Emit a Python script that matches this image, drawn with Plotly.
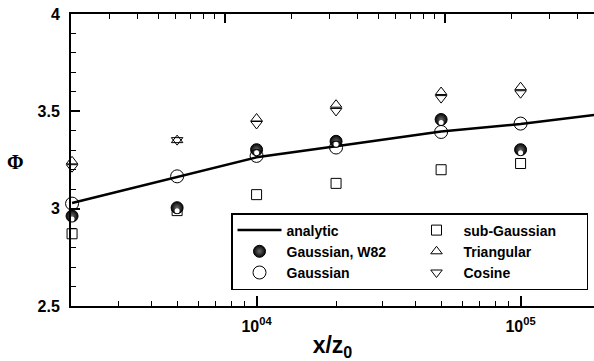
import math
import plotly.graph_objects as go

# ---- data ----
x_sim = [2000, 5000, 1e4, 2e4, 5e4, 1e5]
x_gauss = [2000, 5000, 1e4, 2e4, 5e4, 1e5, 2e5]
x_line = [2000, 5000, 1e4, 2e4, 5e4, 1e5, 2e5]

analytic = [3.029, 3.163, 3.264, 3.321, 3.396, 3.435, 3.485]
gaussian = [3.026, 3.166, 3.271, 3.314, 3.394, 3.437, 3.446]
gauss_w82 = [2.962, 3.005, 3.303, 3.346, 3.458, 3.303]
sub_gauss = [2.871, 2.990, 3.072, 3.130, 3.200, 3.232]
triangular = [3.243, 3.352, 3.463, 3.534, 3.599, 3.624]
cosine = [3.213, 3.352, 3.435, 3.502, 3.568, 3.593]

x_tickvals = [1e4, 1e5]
x_ticktext = ["10<sup>04</sup>", "10<sup>05</sup>"]
x_minor = [3000, 4000, 5000, 6000, 7000, 8000, 9000,
           2e4, 3e4, 4e4, 5e4, 6e4, 7e4, 8e4, 9e4, 2e5]
y_tickvals = [2.5, 3, 3.5, 4]
y_ticktext = ["2.5", "3", "3.5", "4"]
top_tickvals = [10, 100]
top_minor = [3, 4, 5, 6, 7, 8, 9, 20, 30, 40, 50, 60, 70, 80, 90, 200, 300, 400]

FONT = "Liberation Sans"
BLACK = "black"

fig = go.Figure()

fig.add_trace(go.Scatter(
    x=x_line, y=analytic, mode="lines", name="analytic",
    line=dict(color=BLACK, width=2.5), legendrank=1))

fig.add_trace(go.Scatter(
    x=x_sim, y=sub_gauss, mode="markers", name="sub-Gaussian",
    marker=dict(symbol="square-open", size=10, color=BLACK, line=dict(width=1)),
    cliponaxis=False, legendrank=2))

fig.add_trace(go.Scatter(
    x=x_sim, y=gauss_w82, mode="markers", name="Gaussian, W82",
    marker=dict(symbol="circle", size=12, color="#050505",
                gradient=dict(type="radial", color="#6a6a6a"),
                line=dict(width=1, color=BLACK)),
    cliponaxis=False, legendrank=3))

# specular highlight on the shaded spheres
fig.add_trace(go.Scatter(
    x=x_sim, y=gauss_w82, mode="markers", showlegend=False, hoverinfo="skip",
    marker=dict(symbol="circle", size=5, color="white", angle=0, standoff=3,
                line=dict(width=0)),
    cliponaxis=False))

fig.add_trace(go.Scatter(
    x=x_gauss, y=gaussian, mode="markers", name="Gaussian",
    marker=dict(symbol="circle-open", size=13, color=BLACK, line=dict(width=1)),
    cliponaxis=False, legendrank=5))

fig.add_trace(go.Scatter(
    x=x_sim, y=triangular, mode="markers", name="Triangular",
    marker=dict(symbol="triangle-up-open", size=10, color=BLACK, line=dict(width=1)),
    cliponaxis=False, legendrank=4))

fig.add_trace(go.Scatter(
    x=x_sim, y=cosine, mode="markers", name="Cosine",
    marker=dict(symbol="triangle-down-open", size=10, color=BLACK, line=dict(width=1)),
    cliponaxis=False, legendrank=6))

# empty trace to carry the top axis
fig.add_trace(go.Scatter(x=[], y=[], xaxis="x2", showlegend=False, hoverinfo="skip"))

W, H = 594, 361
ML, MR, MT, MB = 71, 0, 14, 55
plot_w = W - ML - MR
plot_h = H - MT - MB

x_lo = math.log10(2000) - 0.004
x_hi = x_lo + plot_w / 264.0
top_lo = math.log10(2)
top_hi = top_lo + plot_w / 220.0

fig.update_layout(
    width=W, height=H,
    margin=dict(l=ML, r=MR, t=MT, b=MB, autoexpand=False),
    paper_bgcolor="white", plot_bgcolor="white",
    font=dict(family=FONT, color=BLACK),
    hovermode=False,
    xaxis=dict(
        type="log", range=[x_lo, x_hi],
        tickmode="array", tickvals=x_tickvals, ticktext=x_ticktext,
        ticks="inside", ticklen=10, tickwidth=1.5, tickcolor=BLACK,
        showline=True, linecolor=BLACK, linewidth=2,
        showgrid=False, zeroline=False,
        tickfont=dict(family=FONT, size=16, weight="bold", color=BLACK),
        ticklabelstandoff=5,
        minor=dict(tickmode="array", tickvals=x_minor, ticks="inside",
                   ticklen=5, tickwidth=1, tickcolor=BLACK, showgrid=False),
        title=dict(text="x/z<sub>0</sub>", standoff=4,
                   font=dict(family=FONT, size=23, weight="bold", color=BLACK)),
    ),
    xaxis2=dict(
        type="log", range=[top_lo, top_hi], overlaying="x", side="top",
        anchor="y",
        tickmode="array", tickvals=top_tickvals, showticklabels=False,
        ticks="inside", ticklen=9, tickwidth=1.5, tickcolor=BLACK,
        showline=True, linecolor=BLACK, linewidth=2,
        showgrid=False, zeroline=False,
        minor=dict(tickmode="array", tickvals=top_minor, ticks="inside",
                   ticklen=5, tickwidth=1, tickcolor=BLACK, showgrid=False),
    ),
    yaxis=dict(
        range=[2.5, 4],
        tickmode="array", tickvals=y_tickvals, ticktext=y_ticktext,
        ticks="inside", ticklen=9, tickwidth=1.5, tickcolor=BLACK,
        showline=True, linecolor=BLACK, linewidth=2,
        showgrid=False, zeroline=False,
        tickfont=dict(family=FONT, size=16, weight="bold", color=BLACK),
        ticklabelstandoff=6,
        minor=dict(dtick=0.1, tick0=2.5, ticks="inside", ticklen=5,
                   tickwidth=1, tickcolor=BLACK, showgrid=False),
    ),
    legend=dict(
        orientation="h",
        x=(588 - ML) / plot_w, y=(MT + plot_h - 213) / plot_h,
        xanchor="right", yanchor="top",
        bgcolor="white", bordercolor=BLACK, borderwidth=1.5,
        font=dict(family=FONT, size=14, weight="bold", color=BLACK),
        entrywidth=118, entrywidthmode="pixels", itemwidth=44,
        traceorder="normal",
    ),
    showlegend=True,
    annotations=[dict(
        text="Φ", xref="paper", yref="paper",
        x=(15 - ML) / plot_w, y=(MT + plot_h - 162) / plot_h,
        xanchor="center", yanchor="middle", showarrow=False,
        font=dict(family="Liberation Serif", size=20, weight="bold", color=BLACK),
    )],
)

# the page is photographed from its top-left corner: drop the default body margin
fig.write_html("out.html",
               config={"displayModeBar": False},
               post_script="document.body.style.margin='0px';"
                           "document.body.style.overflow='hidden';")
